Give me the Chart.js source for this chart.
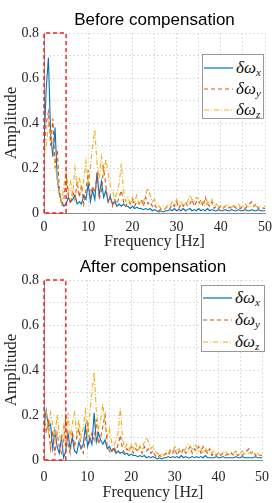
<!DOCTYPE html>
<html><head><meta charset="utf-8">
<script src="https://cdn.jsdelivr.net/npm/chart.js@4"></script>
<style>
html,body{margin:0;padding:0;background:#fff;}
#wrap{position:relative;width:278px;height:503px;overflow:hidden}
.cw{position:absolute;left:0;width:278px}
.leg{position:absolute;background:#fff;border:1px solid #9a9a9a;box-sizing:border-box}
.row{position:absolute;left:1px;height:20px;display:flex;align-items:center;white-space:nowrap}
.row svg{margin-right:3px}
.lab{font-family:"Liberation Serif",serif;font-style:italic;font-size:17px;line-height:20px;color:#111}
.lab sub{font-size:11px;vertical-align:-3px;line-height:0}
</style></head>
<body>
<div id="wrap">
  <div class="cw" style="top:0;height:251px"><canvas id="c1" width="278" height="251"></canvas></div>
  <div class="cw" style="top:251px;height:252px"><canvas id="c2" width="278" height="252"></canvas></div>
</div>
<script>
// ---------- data ----------
const freq = [0,0.5,1,1.5,2,2.5,3,3.5,4,4.5,
5,5.5,6,6.5,7,7.5,8,8.5,9,9.5,
10,10.5,11,11.5,12,12.5,13,13.5,14,14.5,
15,15.5,16,16.5,17,17.5,18,18.5,19,19.5,
20,20.5,21,21.5,22,22.5,23,23.5,24,24.5,
25,25.5,26,26.5,27,27.5,28,28.5,29,29.5,
30,30.5,31,31.5,32,32.5,33,33.5,34,34.5,
35,35.5,36,36.5,37,37.5,38,38.5,39,39.5,
40,40.5,41,41.5,42,42.5,43,43.5,44,44.5,
45,45.5,46,46.5,47,47.5,48,48.5,49,49.5,50];

const seriesNames = ['δω', 'δω', 'δω'];
const seriesSubs = ['x', 'y', 'z'];
const chartTitles = ['Before compensation', 'After compensation'];
const xTickLabels = ['0','10','20','30','40','50'];
const yTickLabels = ['0','0.2','0.4','0.6','0.8'];
const boxFreq = [0, 0, 5, 5, 0];
const boxAmp = [0, 0.8, 0.8, 0, 0];

// Before compensation
const beforeX = [0.30,0.55,0.69,0.35,0.25,0.38,0.15,0.08,0.05,0.03,
0.04,0.07,0.05,0.06,0.08,0.04,0.05,0.04,0.08,0.06,
0.13,0.05,0.10,0.06,0.18,0.08,0.14,0.07,0.10,0.05,
0.07,0.04,0.05,0.03,0.04,0.03,0.04,0.03,0.03,0.02,
0.03,0.02,0.025,0.02,0.02,0.015,0.02,0.015,0.02,0.01,
0.015,0.01,0.005,0.01,0.005,0.01,0.01,0.015,0.01,0.02,
0.01,0.015,0.01,0.02,0.01,0.015,0.02,0.01,0.015,0.01,
0.02,0.01,0.015,0.01,0.02,0.01,0.015,0.01,0.01,0.015,
0.01,0.01,0.015,0.01,0.01,0.015,0.01,0.01,0.015,0.01,
0.01,0.015,0.01,0.01,0.015,0.01,0.01,0.015,0.01,0.01,0.01];
const beforeY = [0.28,0.40,0.45,0.30,0.42,0.20,0.28,0.10,0.03,0.06,
0.17,0.08,0.04,0.10,0.06,0.14,0.07,0.125,0.04,0.10,
0.19,0.07,0.12,0.09,0.17,0.06,0.10,0.20,0.12,0.05,
0.08,0.03,0.06,0.04,0.07,0.10,0.05,0.03,0.05,0.04,
0.06,0.03,0.05,0.04,0.06,0.03,0.07,0.04,0.05,0.03,
0.04,0.02,0.01,0.02,0.015,0.02,0.03,0.02,0.04,0.03,
0.05,0.02,0.04,0.03,0.05,0.03,0.04,0.06,0.03,0.05,
0.04,0.06,0.03,0.07,0.04,0.03,0.05,0.02,0.03,0.02,
0.03,0.02,0.03,0.02,0.025,0.02,0.03,0.02,0.025,0.02,
0.03,0.02,0.03,0.04,0.05,0.03,0.04,0.02,0.025,0.02,0.02];
const beforeZ = [0.25,0.30,0.40,0.35,0.30,0.22,0.15,0.08,0.05,0.12,
0.18,0.10,0.14,0.08,0.20,0.12,0.16,0.10,0.15,0.23,
0.13,0.20,0.30,0.37,0.22,0.15,0.25,0.17,0.24,0.18,
0.12,0.10,0.06,0.09,0.13,0.22,0.10,0.05,0.07,0.04,
0.07,0.05,0.08,0.04,0.06,0.05,0.08,0.11,0.08,0.05,
0.06,0.04,0.03,0.02,0.03,0.02,0.04,0.03,0.05,0.04,
0.06,0.04,0.05,0.03,0.04,0.05,0.08,0.06,0.05,0.07,
0.06,0.04,0.05,0.03,0.05,0.04,0.06,0.03,0.04,0.03,
0.035,0.025,0.03,0.04,0.03,0.025,0.035,0.03,0.04,0.025,
0.03,0.04,0.03,0.025,0.03,0.035,0.03,0.025,0.03,0.02,0.03];

// After compensation
const afterX = [0.15,0.22,0.15,0.16,0.05,0.13,0.06,0.03,0.10,0.01,
0.04,0.12,0.05,0.10,0.04,0.03,0.08,0.05,0.07,0.15,
0.06,0.10,0.07,0.21,0.08,0.12,0.09,0.07,0.09,0.05,
0.06,0.04,0.05,0.03,0.04,0.03,0.035,0.025,0.03,0.02,
0.025,0.02,0.02,0.015,0.02,0.015,0.02,0.01,0.015,0.01,
0.015,0.01,0.005,0.01,0.005,0.01,0.01,0.015,0.01,0.015,
0.01,0.015,0.01,0.02,0.01,0.015,0.01,0.01,0.015,0.01,
0.015,0.01,0.015,0.01,0.02,0.01,0.01,0.01,0.01,0.015,
0.01,0.01,0.015,0.01,0.01,0.01,0.01,0.01,0.015,0.01,
0.01,0.015,0.01,0.01,0.01,0.01,0.01,0.015,0.01,0.01,0.01];
const afterY = [0.20,0.12,0.17,0.05,0.13,0.02,0.12,0.06,0.03,0.08,
0.20,0.07,0.03,0.13,0.06,0.10,0.14,0.05,0.03,0.10,
0.16,0.08,0.12,0.09,0.18,0.07,0.10,0.15,0.20,0.06,
0.04,0.03,0.06,0.04,0.07,0.11,0.05,0.03,0.05,0.04,
0.06,0.03,0.05,0.04,0.06,0.03,0.06,0.04,0.05,0.03,
0.04,0.02,0.01,0.02,0.015,0.02,0.03,0.02,0.04,0.03,
0.05,0.02,0.04,0.03,0.05,0.03,0.04,0.06,0.03,0.05,
0.04,0.06,0.03,0.06,0.04,0.03,0.05,0.02,0.03,0.02,
0.03,0.02,0.03,0.02,0.025,0.02,0.03,0.02,0.025,0.02,
0.03,0.02,0.03,0.04,0.05,0.03,0.04,0.02,0.025,0.02,0.02];
const afterZ = [0.18,0.22,0.12,0.21,0.16,0.10,0.20,0.12,0.08,0.15,
0.05,0.21,0.10,0.16,0.21,0.12,0.18,0.10,0.14,0.22,
0.12,0.21,0.30,0.39,0.22,0.14,0.18,0.25,0.16,0.10,
0.14,0.08,0.06,0.09,0.12,0.23,0.10,0.05,0.07,0.04,
0.07,0.05,0.08,0.04,0.06,0.05,0.08,0.10,0.08,0.05,
0.06,0.04,0.03,0.02,0.03,0.02,0.04,0.03,0.05,0.04,
0.06,0.04,0.05,0.03,0.04,0.05,0.07,0.06,0.05,0.07,
0.06,0.04,0.05,0.03,0.05,0.04,0.05,0.03,0.04,0.03,
0.035,0.025,0.03,0.04,0.03,0.025,0.035,0.03,0.04,0.025,
0.03,0.04,0.03,0.025,0.03,0.035,0.03,0.025,0.03,0.02,0.03];

// ---------- styles ----------
const COLORS = ['#0072BD', '#D95319', '#EDB120'];
const DASHES = [[], [4, 3], [5, 2, 1, 2]];
const SVGDASH = ['', '4 3', '5 2 1 2'];

const pts = (xs, ys) => xs.map((x, i) => ({x: x, y: ys[i]}));

function makeChart(id, title, sx, sy, sz, L) {
  const series = [sx, sy, sz];
  const datasets = series.map((s, i) => ({
    label: seriesNames[i] + seriesSubs[i],
    data: pts(freq, s),
    borderColor: COLORS[i],
    borderWidth: 1.1,
    borderDash: DASHES[i],
    pointRadius: 0,
    tension: 0,
    fill: false,
    order: 3 - i
  }));
  datasets.push({
    label: 'box',
    data: pts(boxFreq, boxAmp),
    borderColor: '#ff1a1a',
    borderWidth: 1.4,
    borderDash: [4, 3],
    pointRadius: 0,
    tension: 0,
    fill: false,
    clip: false,
    order: 0
  });
  return new Chart(document.getElementById(id), {
    type: 'line',
    data: {datasets: datasets},
    options: {
      responsive: false,
      animation: false,
      events: [],
      layout: {padding: {left: 0, right: 12, top: 0, bottom: 0}},
      plugins: {
        legend: {display: false},
        tooltip: {enabled: false},
        title: {
          display: true, text: title, color: '#000', fullSize: false,
          font: {family: 'Liberation Sans', size: 17, weight: 'normal'},
          padding: {top: L.tTop, bottom: L.tBot}
        }
      },
      scales: {
        x: {
          type: 'linear', min: 0, max: 50,
          afterFit: s => { s.height = L.xH; },
          ticks: {
            stepSize: 5, autoSkip: false, maxRotation: 0, padding: L.xPad,
            color: '#262626', font: {family: 'Liberation Serif', size: 14},
            callback: v => xTickLabels.includes(String(v)) ? String(v) : ''
          },
          grid: {color: '#dedede', lineWidth: 1, drawTicks: false},
          border: {display: true, color: '#8a8a8a', width: 1, dash: [2, 2]},
          title: {display: true, text: 'Frequency [Hz]', color: '#262626',
            font: {family: 'Liberation Serif', size: 16}, padding: {top: 0, bottom: L.xtBot}}
        },
        y: {
          type: 'linear', min: 0, max: 0.8,
          afterFit: s => { s.width = 44; },
          ticks: {
            stepSize: 0.1, autoSkip: false, padding: 5,
            color: '#262626', font: {family: 'Liberation Serif', size: 14},
            callback: v => {
              const lab = String(Math.round(v * 10) / 10);
              return yTickLabels.includes(lab) ? lab : '';
            }
          },
          grid: {color: '#dedede', lineWidth: 1, drawTicks: false},
          border: {display: true, color: '#8a8a8a', width: 1, dash: [2, 2]},
          title: {display: true, text: 'Amplitude', color: '#262626',
            font: {family: 'Liberation Serif', size: 17}, padding: {top: 1, bottom: 0}}
        }
      }
    }
  });
}

makeChart('c1', chartTitles[0], beforeX, beforeY, beforeZ, {tTop: 9.8, tBot: 2.8, xH: 38, xPad: 6, xtBot: 0});
makeChart('c2', chartTitles[1], afterX, afterY, afterZ, {tTop: 5.8, tBot: 2.8, xH: 43, xPad: 9, xtBot: 1});

// ---------- legends (HTML, for subscripts) ----------
function makeLegend(left, top, w, h, rows) {
  const box = document.createElement('div');
  box.className = 'leg';
  box.style.left = left + 'px'; box.style.top = top + 'px';
  box.style.width = w + 'px'; box.style.height = h + 'px';
  seriesNames.forEach((n, i) => {
    const r = document.createElement('div');
    r.className = 'row';
    r.style.top = (rows[i] - 10) + 'px';
    r.innerHTML = '<svg width="29" height="4"><line x1="0" y1="2" x2="29" y2="2" stroke="' + COLORS[i] +
      '" stroke-width="1.2"' + (SVGDASH[i] ? ' stroke-dasharray="' + SVGDASH[i] + '"' : '') + '/></svg>' +
      '<span class="lab">' + n + '<sub>' + seriesSubs[i] + '</sub></span>';
    box.appendChild(r);
  });
  document.getElementById('wrap').appendChild(box);
}
makeLegend(202, 54, 62, 65, [13, 34, 55]);
makeLegend(201, 285, 64, 67, [12, 34, 56]);
</script>
</body></html>
